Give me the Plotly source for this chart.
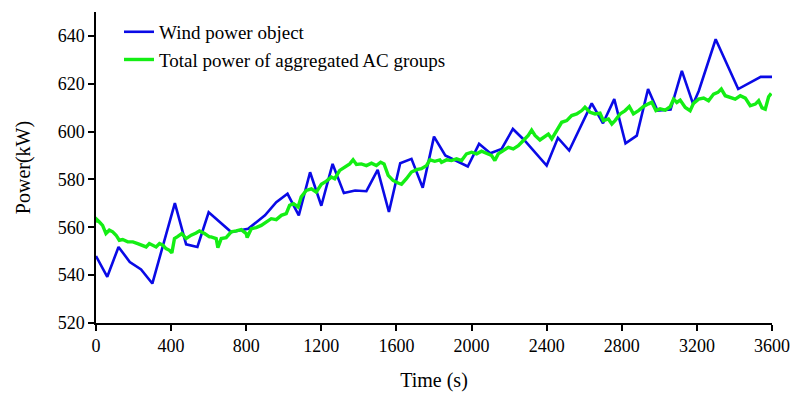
import plotly.graph_objects as go

# Wind power object (blue)
wind_t = [0, 60, 120, 180, 240, 300, 420, 480, 540, 600, 720, 810, 900, 960, 1020,
          1080, 1140, 1200, 1260, 1320, 1380, 1440, 1500, 1560, 1620, 1680, 1740,
          1800, 1860, 1980, 2040, 2100, 2160, 2220, 2280, 2400, 2460, 2520, 2640,
          2700, 2760, 2820, 2880, 2940, 2990, 3060, 3120, 3180, 3210, 3300, 3420,
          3540, 3600]
wind_p = [548, 539.3, 551.8, 545.5, 542.4, 536.5, 570.1, 552.9, 551.8, 566.3, 558,
          559.4, 565, 570.5, 574, 565, 583, 569, 586.5, 574.3, 575.4, 575.1, 584,
          566.4, 586.8, 588.6, 576.5, 597.9, 590, 585.4, 594.9, 591, 592.8, 601.1,
          596.5, 585.8, 597.4, 592.1, 611.8, 603.5, 613.6, 595.1, 598.3, 617.8,
          608.8, 609.2, 625.4, 611.5, 617, 638.6, 617.8, 622.9, 622.9]

# Total power of aggregated AC groups (green)
ac_t = [0, 5, 18, 35, 53, 71, 89, 107, 124, 142, 169, 196, 222, 249, 267, 284, 302,
        320, 338, 356, 373, 391, 404, 418, 436, 457, 480, 507, 533, 551, 578, 604,
        613, 640, 649, 667, 693, 720, 747, 773, 800, 805, 827, 853, 880, 907, 933,
        960, 987, 1013, 1031, 1052, 1076, 1093, 1120, 1147, 1173, 1200, 1227, 1253,
        1271, 1298, 1324, 1351, 1369, 1387, 1413, 1440, 1467, 1493, 1516, 1534,
        1556, 1582, 1609, 1627, 1653, 1680, 1707, 1733, 1760, 1778, 1804, 1831,
        1840, 1867, 1893, 1920, 1947, 1973, 2000, 2027, 2053, 2080, 2107, 2124,
        2142, 2169, 2196, 2222, 2249, 2276, 2302, 2320, 2338, 2364, 2391, 2409,
        2427, 2453, 2480, 2507, 2533, 2560, 2587, 2604, 2631, 2658, 2684, 2702,
        2729, 2747, 2764, 2791, 2818, 2840, 2862, 2889, 2916, 2942, 2960, 2982,
        3004, 3031, 3058, 3076, 3093, 3111, 3138, 3164, 3182, 3209, 3236, 3262,
        3289, 3312, 3330, 3351, 3378, 3404, 3431, 3458, 3484, 3511, 3529, 3547,
        3564, 3582, 3596]
ac_p = [562, 563.2, 562.2, 560.8, 557.4, 558.8, 558.1, 556.7, 554.6, 554.9, 553.9,
        553.9, 553.2, 552.5, 551.8, 553.2, 552.5, 551.8, 553.2, 552.5, 551.1, 550.4,
        549.3, 555.3, 556.2, 557.4, 555.3, 556.7, 557.6, 558.5, 557.4, 556, 556,
        555.3, 551.5, 555.3, 555.7, 558.1, 558.5, 559, 557.4, 555.7, 559.4, 559.9,
        560.8, 562.2, 563.6, 563.2, 565, 565.7, 569.2, 569.9, 568.5, 572.7, 575.4,
        576.1, 574.7, 578, 579.3, 581, 580.3, 583.8, 585.1, 586.5, 588.2, 586.25,
        586.5, 585.8, 586.8, 585.8, 587.2, 586.5, 581.7, 579.6, 578.5, 578, 580.3,
        583.1, 584.1, 584.5, 585.8, 588.2, 587.6, 588.2, 587.2, 588.2, 587.9,
        588.6, 587.9, 590.7, 591.4, 590.7, 591.8, 590.9, 590, 587.9, 590.7, 592.1,
        593.4, 592.8, 594.1, 596.3, 598.4, 600.6, 598.4, 596.5, 597.9, 599, 597,
        600.4, 603.9, 604.6, 606.7, 607.4, 608.8, 610.2, 608.1, 607.4, 607.7,
        604.6, 605.3, 603.2, 604.6, 607.4, 608.8, 610.5, 607.4, 608.8, 610.5,
        611.6, 612.3, 608.8, 609.5, 609, 610.4, 613.6, 612.2, 613.2, 610.1, 608.75,
        611.8, 613.6, 614, 612.9, 615.7, 616.4, 617.8, 615, 614.3, 613.6, 615, 614,
        610.8, 611.5, 612.9, 609.9, 609.4, 614.6, 616]

x_ticks = [0, 400, 800, 1200, 1600, 2000, 2400, 2800, 3200, 3600]
y_ticks = [520, 540, 560, 580, 600, 620, 640]

fig = go.Figure()
fig.add_trace(go.Scatter(x=wind_t, y=wind_p, mode="lines", name="Wind power object",
                         line=dict(color="#0A0AE6", width=2.6)))
fig.add_trace(go.Scatter(x=ac_t, y=ac_p, mode="lines",
                         name="Total power of aggregated AC groups",
                         line=dict(color="#14EE14", width=3.4)))

font_family = "Liberation Serif, Times New Roman, serif"
fig.update_layout(
    width=794, height=397,
    margin=dict(l=96, r=22, t=12, b=74, autoexpand=False),
    paper_bgcolor="white", plot_bgcolor="white",
    font=dict(family=font_family, size=18, color="black"),
    showlegend=True,
    legend=dict(x=0.034, y=0.997, xanchor="left", yanchor="top",
                bgcolor="rgba(0,0,0,0)", font=dict(size=19, family=font_family),
                tracegroupgap=0),
    xaxis=dict(range=[0, 3600], tickvals=x_ticks, ticktext=[str(v) for v in x_ticks],
               showline=True, linecolor="black", linewidth=1.5, ticks="outside",
               ticklen=6, tickwidth=1.5, tickcolor="black", showgrid=False,
               zeroline=False, automargin=False,
               title=dict(text="Time (s)", standoff=18, font=dict(size=20))),
    yaxis=dict(range=[520, 650], tickvals=y_ticks, ticktext=[str(v) for v in y_ticks],
               showline=True, linecolor="black", linewidth=1.5, ticks="outside",
               ticklen=6, tickwidth=1.5, tickcolor="black", showgrid=False,
               zeroline=False, automargin=False,
               title=dict(text="Power(kW)", standoff=22, font=dict(size=20))),
)

fig.write_html("out.html")
